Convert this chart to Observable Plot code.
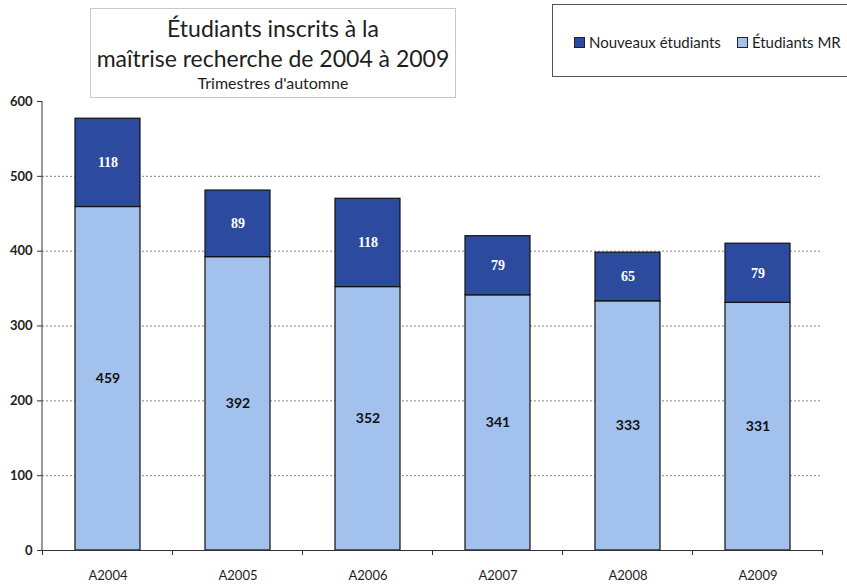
<!DOCTYPE html>
<html><head><meta charset="utf-8">
<script src="https://cdn.jsdelivr.net/npm/d3@7"></script>
<script src="https://cdn.jsdelivr.net/npm/@observablehq/plot@0.6"></script>
<style>
body{margin:0;background:#fff;font-family:Lato,"Open Sans",sans-serif;}
#wrap{position:relative;width:847px;height:586px;overflow:hidden;}
#chart{position:absolute;left:0;top:0;}
#title{position:absolute;left:90px;top:8px;width:366px;height:90px;border:1px solid #c8c8c8;text-align:center;color:#1e1e1e;box-sizing:border-box;}
#title .l1{font-size:23px;line-height:30px;margin-top:4px;}
#title .l2{font-size:23px;line-height:30px;}
#title .l3{font-size:16px;line-height:20px;margin-top:0px;}
#legend{position:absolute;left:552px;top:4px;width:330px;height:73px;border:1px solid #555;box-sizing:border-box;font-size:15px;color:#1e1e1e;}
#legend .items{position:absolute;left:21px;top:28px;white-space:nowrap;display:flex;align-items:center;}
#legend .sw{display:inline-block;width:9px;height:9px;border:1px solid #222;margin-right:4px;}
#legend .item{display:flex;align-items:center;margin-right:16px;}
</style></head>
<body>
<div id="wrap">
<div id="chart"></div>
<div id="title"><div class="l1">Étudiants inscrits à la</div><div class="l2">maîtrise recherche de 2004 à 2009</div><div class="l3">Trimestres d'automne</div></div>
<div id="legend"><div class="items"></div></div>
</div>
<script>
const categories = ["A2004", "A2005", "A2006", "A2007", "A2008", "A2009"];
const etudiantsMR = [459, 392, 352, 341, 333, 331];
const nouveauxEtudiants = [118, 89, 118, 79, 65, 79];
const series = ["Étudiants MR", "Nouveaux étudiants"];
const seriesColors = ["#a2c1ec", "#2c4b9f"];
const legendOrder = ["Nouveaux étudiants", "Étudiants MR"];
const yTicks = [0, 100, 200, 300, 400, 500, 600];
const gridTicks = [100, 200, 300, 400, 500];

const table = categories.flatMap((c, i) => [
  {annee: c, serie: series[0], valeur: etudiantsMR[i]},
  {annee: c, serie: series[1], valeur: nouveauxEtudiants[i]}
]);

// axis line on the left and category boundary ticks on the bottom, from the scales
const axisLines = (index, scales, values, dimensions) => {
  const {marginLeft, marginTop, marginBottom, height} = dimensions;
  const x = scales.x;
  const step = x.step();
  const pi = x.paddingInner();
  const y0 = height - marginBottom;
  const g = d3.create("svg:g").attr("stroke", "#333").attr("stroke-width", 1);
  g.append("line").attr("x1", marginLeft).attr("x2", marginLeft).attr("y1", marginTop).attr("y2", y0);
  const bounds = categories.map(c => x(c) - step * pi / 2);
  bounds.push(x(categories[categories.length - 1]) + x.bandwidth() + step * pi / 2);
  g.selectAll("line.b").data(bounds).join("line").attr("class", "b")
    .attr("x1", d => d).attr("x2", d => d).attr("y1", y0).attr("y2", y0 + 5);
  return g.node();
};

const stackOpts = {x: "annee", y: "valeur", z: "serie", order: series, text: "valeur"};

const chart = Plot.plot({
  width: 847,
  height: 586,
  marginLeft: 42,
  marginRight: 25,
  marginTop: 101,
  marginBottom: 36,
  style: {fontFamily: "Lato, 'Open Sans', sans-serif", color: "#1e1e1e", background: "transparent", overflow: "visible"},
  x: {domain: categories, paddingInner: 0.5, paddingOuter: 0.25, axis: null},
  y: {domain: [0, 600], axis: null},
  color: {domain: series, range: seriesColors},
  marks: [
    Plot.gridY(gridTicks, {stroke: "#555", strokeOpacity: 0.9, strokeDasharray: "2,2", strokeWidth: 0.8}),
    Plot.barY(table, Plot.stackY({x: "annee", y: "valeur", fill: "serie", order: series, stroke: "#111", strokeWidth: 1.2})),
    Plot.ruleY([0], {stroke: "#333"}),
    axisLines,
    Plot.axisY(yTicks, {tickSize: 5, tickPadding: 5, fontSize: 13, fontWeight: "bold", label: null, stroke: "#333"}),
    Plot.axisX({tickSize: 0, tickPadding: 20, fontSize: 13, label: null}),
    Plot.text(table, Plot.filter(d => d.serie === series[0], Plot.stackY({...stackOpts, fill: "#111", fontSize: 14, fontWeight: "bold"}))),
    Plot.text(table, Plot.filter(d => d.serie === series[1], Plot.stackY({...stackOpts, fill: "white", fontSize: 14, fontWeight: "bold", fontFamily: "'Liberation Serif', serif"})))
  ]
});
document.getElementById("chart").appendChild(chart);

const items = d3.select("#legend .items");
legendOrder.forEach(s => {
  const it = items.append("span").attr("class", "item");
  it.append("span").attr("class", "sw").style("background", seriesColors[series.indexOf(s)]);
  it.append("span").text(s);
});
</script>
</body></html>
